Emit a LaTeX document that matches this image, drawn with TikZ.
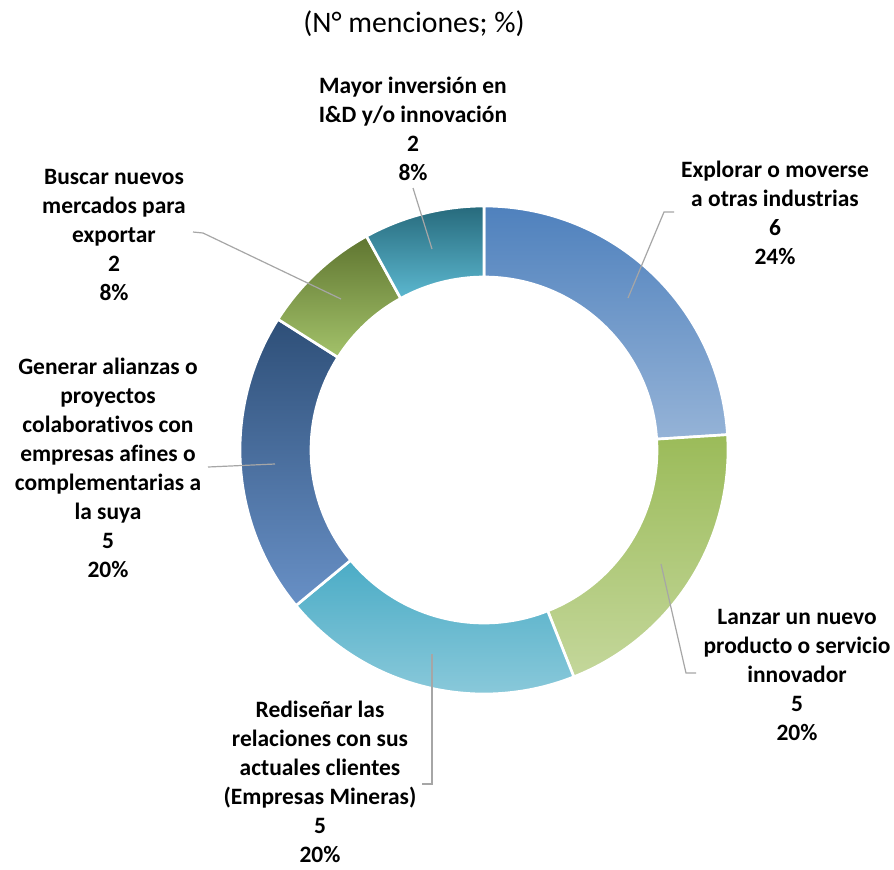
\documentclass[tikz,border=0pt]{standalone}
\usepackage{fontspec}
\setmainfont{Carlito}[Ligatures=CommonOff]
\definecolor{c1t}{HTML}{4F81BD}\definecolor{c1b}{HTML}{95B3D7}
\definecolor{c2t}{HTML}{9BBB59}\definecolor{c2b}{HTML}{C4D79B}
\definecolor{c3t}{HTML}{4BACC6}\definecolor{c3b}{HTML}{93CDDD}
\definecolor{c4t}{HTML}{2E4F78}\definecolor{c4b}{HTML}{6890C6}
\definecolor{c5t}{HTML}{5F7530}\definecolor{c5b}{HTML}{A3C26A}
\definecolor{c6t}{HTML}{276A7C}\definecolor{c6b}{HTML}{5CB8D0}
\definecolor{leadergray}{HTML}{A6A6A6}
\begin{document}
\begin{tikzpicture}[x=0.75pt,y=-0.75pt,
  slice/.style={draw=white,line width=2pt},
  lbl/.style={align=center,font=\fontsize{17.6}{21.75}\selectfont\bfseries,inner sep=0pt},
  leader/.style={draw=leadergray,line width=0.9pt}]
\useasboundingbox[fill=white] (0,0) rectangle (894,869);
\node[font=\fontsize{22.3}{26}\selectfont,inner sep=0pt] (title) at (414,24) {(N° menciones; \%)};
\begin{scope}[shift={(484,450)}]
\def\Ro{183pt}\def\Ri{129.75pt}
\newcommand\donutslice[4]{%
  \path[slice,top color=#3,bottom color=#4] (#1:\Ro) arc[start angle=#1,end angle=#2,radius=\Ro] -- (#2:\Ri) arc[start angle=#2,end angle=#1,radius=\Ri] -- cycle;}
\donutslice{90}{3.6}{c1t}{c1b}
\donutslice{3.6}{-68.4}{c2t}{c2b}
\donutslice{-68.4}{-140.4}{c3t}{c3b}
\donutslice{-140.4}{-212.4}{c4t}{c4b}
\donutslice{-212.4}{-241.2}{c5t}{c5b}
\donutslice{-241.2}{-270}{c6t}{c6b}
\end{scope}
% labels
\node[lbl] (mayor) at (413,128.5) {Mayor inversión en\\I\&D y/o innovación\\2\\8\%};
\node[lbl] (explorar) at (775,213) {Explorar o moverse\\a otras industrias\\6\\24\%};
\node[lbl] (lanzar) at (797,674.5) {Lanzar un nuevo\\producto o servicio\\innovador\\5\\20\%};
\node[lbl] (redis) at (320,782) {Rediseñar las\\relaciones con sus\\actuales clientes\\(Empresas Mineras)\\5\\20\%};
\node[lbl] (generar) at (108,468) {Generar alianzas o\\proyectos\\colaborativos con\\empresas afines o\\complementarias a\\la suya\\5\\20\%};
\node[lbl] (buscar) at (114,234.5) {Buscar nuevos\\mercados para\\exportar\\2\\8\%};
% leader lines
\coordinate (e1) at (628,298); \coordinate (e2) at (664,212); \coordinate (e3) at (674,212);
\coordinate (l1) at (661,564); \coordinate (l2) at (686,673); \coordinate (l3) at (696,673);
\coordinate (r1) at (432,654); \coordinate (r2) at (432,784); \coordinate (r3) at (422,784);
\coordinate (g1) at (275,464); \coordinate (g2) at (208,467);
\coordinate (b1) at (341,299); \coordinate (b2) at (203,233); \coordinate (b3) at (193,232);
\coordinate (m1) at (432,249); \coordinate (m2) at (413,188);
\draw[leader] (e1) -- (e2) -- (e3);
\draw[leader] (l1) -- (l2) -- (l3);
\draw[leader] (r1) -- (r2) -- (r3);
\draw[leader] (g1) -- (g2);
\draw[leader] (b1) -- (b2) -- (b3);
\draw[leader] (m1) -- (m2);
\end{tikzpicture}
\end{document}
